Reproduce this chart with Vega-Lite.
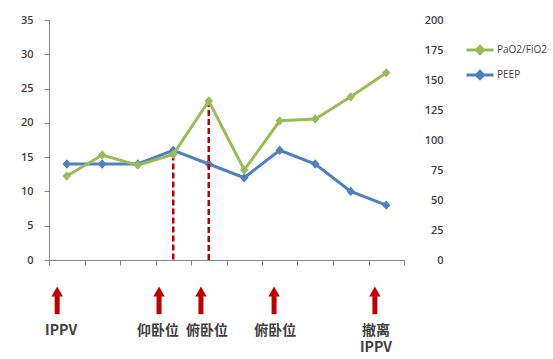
{
  "$schema": "https://vega.github.io/schema/vega-lite/v6.json",
  "autosize": "none",
  "width": 355,
  "height": 240,
  "padding": {"left": 49, "top": 20, "right": 149, "bottom": 99},
  "background": "white",
  "config": {
    "view": {"stroke": null},
    "axis": {"labelFont": "Open Sans", "labelFontSize": 11, "labelFontWeight": 600, "labelColor": "#3F3F3F", "grid": false, "domainColor": "#868686", "tickColor": "#868686", "title": null, "labelOverlap": false, "labelFlush": false, "labelBound": false},
    "legend": {"labelFont": "Open Sans", "labelFontSize": 10, "labelColor": "#3F3F3F"}
  },
  "datasets": {
    "series": [
      {"i": 1, "series": "PEEP", "value": 14},
      {"i": 2, "series": "PEEP", "value": 14},
      {"i": 3, "series": "PEEP", "value": 14},
      {"i": 4, "series": "PEEP", "value": 16},
      {"i": 5, "series": "PEEP", "value": 14},
      {"i": 6, "series": "PEEP", "value": 12},
      {"i": 7, "series": "PEEP", "value": 16},
      {"i": 8, "series": "PEEP", "value": 14},
      {"i": 9, "series": "PEEP", "value": 10},
      {"i": 10, "series": "PEEP", "value": 8},
      {"i": 1, "series": "PaO2/FiO2", "value": 70},
      {"i": 2, "series": "PaO2/FiO2", "value": 87.5},
      {"i": 3, "series": "PaO2/FiO2", "value": 79},
      {"i": 4, "series": "PaO2/FiO2", "value": 88},
      {"i": 5, "series": "PaO2/FiO2", "value": 132.5},
      {"i": 6, "series": "PaO2/FiO2", "value": 75},
      {"i": 7, "series": "PaO2/FiO2", "value": 116},
      {"i": 8, "series": "PaO2/FiO2", "value": 117.5},
      {"i": 9, "series": "PaO2/FiO2", "value": 136},
      {"i": 10, "series": "PaO2/FiO2", "value": 156}
    ],
    "events": [
      {"at": 0.73, "labelAt": 0.84, "label": "IPPV"},
      {"at": 3.6, "labelAt": 3.57, "label": "仰卧位"},
      {"at": 4.78, "labelAt": 4.95, "label": "俯卧位"},
      {"at": 6.84, "labelAt": 6.87, "label": "俯卧位"},
      {"at": 9.68, "labelAt": 9.71, "label": "撤离\nIPPV"}
    ]
  },
  "layer": [
    {
      "layer": [
        {
          "data": {"name": "series"},
          "transform": [{"filter": "datum.series == 'PEEP'"}],
          "mark": {"type": "line", "strokeWidth": 3},
          "encoding": {
            "x": {"field": "i", "type": "quantitative", "scale": {"domain": [0.5, 10.5], "nice": false, "zero": false}, "axis": {"values": [0.5,1.5,2.5,3.5,4.5,5.5,6.5,7.5,8.5,9.5,10.5], "labels": false, "tickSize": 5}},
            "y": {"field": "value", "type": "quantitative", "scale": {"domain": [0, 35], "nice": false}, "axis": {"values": [0,5,10,15,20,25,30,35], "tickSize": 5, "labelPadding": 11}},
            "color": {"field": "series", "type": "nominal", "scale": {"domain": ["PaO2/FiO2", "PEEP"], "range": ["#9BBB59", "#4F81BD"]},
              "legend": {"title": null, "orient": "none", "legendX": 416, "legendY": 15, "symbolType": "M-1,0L1,0M0,-0.27L0.27,0L0,0.27L-0.27,0Z", "symbolSize": 729, "symbolStrokeWidth": 3, "rowPadding": 0, "labelOffset": 2,
                "encode": {"symbols": {"update": {"fill": {"scale": "color", "field": "value"}, "stroke": {"scale": "color", "field": "value"}, "opacity": {"value": 1}}}}}}
          }
        },
        {
          "data": {"name": "series"},
          "transform": [{"filter": "datum.series == 'PEEP'"}],
          "mark": {"type": "point", "shape": "M0,-1.1L1,0L0,1.1L-1,0Z", "filled": true, "size": 72, "opacity": 1},
          "encoding": {
            "x": {"field": "i", "type": "quantitative", "axis": {"values": [0.5,1.5,2.5,3.5,4.5,5.5,6.5,7.5,8.5,9.5,10.5], "labels": false, "tickSize": 5}},
            "y": {"field": "value", "type": "quantitative", "axis": {"values": [0,5,10,15,20,25,30,35], "tickSize": 5, "labelPadding": 11}},
            "color": {"field": "series", "type": "nominal"}
          }
        },
        {
          "data": {"name": "events"},
          "mark": {"type": "rule", "color": "#C00000", "strokeWidth": 5},
          "encoding": {
            "x": {"field": "at", "type": "quantitative", "axis": {"values": [0.5,1.5,2.5,3.5,4.5,5.5,6.5,7.5,8.5,9.5,10.5], "labels": false, "tickSize": 5}},
            "y": {"datum": -5.2, "type": "quantitative", "axis": {"values": [0,5,10,15,20,25,30,35], "tickSize": 5, "labelPadding": 11}},
            "y2": {"datum": -7.9}
          }
        },
        {
          "data": {"name": "events"},
          "mark": {"type": "point", "shape": "triangle-up", "filled": true, "color": "#C00000", "size": 130, "opacity": 1},
          "encoding": {
            "x": {"field": "at", "type": "quantitative", "axis": {"values": [0.5,1.5,2.5,3.5,4.5,5.5,6.5,7.5,8.5,9.5,10.5], "labels": false, "tickSize": 5}},
            "y": {"datum": -4.6, "type": "quantitative", "axis": {"values": [0,5,10,15,20,25,30,35], "tickSize": 5, "labelPadding": 11}}
          }
        },
        {
          "data": {"name": "events"},
          "mark": {"type": "text", "font": "Noto Sans CJK SC", "fontSize": 14, "fontWeight": "bold", "color": "#3F3F3F", "baseline": "top", "align": "center", "lineBreak": "\n", "lineHeight": 17},
          "encoding": {
            "x": {"field": "labelAt", "type": "quantitative", "axis": {"values": [0.5,1.5,2.5,3.5,4.5,5.5,6.5,7.5,8.5,9.5,10.5], "labels": false, "tickSize": 5}},
            "y": {"datum": -9.3, "type": "quantitative", "axis": {"values": [0,5,10,15,20,25,30,35], "tickSize": 5, "labelPadding": 11}},
            "text": {"field": "label"}
          }
        }
      ]
    },
    {
      "layer": [
        {
          "data": {"name": "series"},
          "transform": [{"filter": "datum.series == 'PaO2/FiO2' && (datum.i == 4 || datum.i == 5)"}],
          "mark": {"type": "rule", "color": "#C00000", "strokeWidth": 2.5, "strokeDash": [6, 3]},
          "encoding": {
            "x": {"field": "i", "type": "quantitative", "axis": {"values": [0.5,1.5,2.5,3.5,4.5,5.5,6.5,7.5,8.5,9.5,10.5], "labels": false, "tickSize": 5}},
            "y": {"field": "value", "type": "quantitative", "scale": {"domain": [0, 200], "nice": false}, "axis": {"orient": "right", "values": [0,25,50,75,100,125,150,175,200], "ticks": false, "domain": false, "labelAlign": "right", "labelPadding": 39}},
            "y2": {"datum": 0}
          }
        },
        {
          "data": {"name": "series"},
          "transform": [{"filter": "datum.series == 'PaO2/FiO2'"}],
          "mark": {"type": "line", "strokeWidth": 3},
          "encoding": {
            "x": {"field": "i", "type": "quantitative", "axis": {"values": [0.5,1.5,2.5,3.5,4.5,5.5,6.5,7.5,8.5,9.5,10.5], "labels": false, "tickSize": 5}},
            "y": {"field": "value", "type": "quantitative", "axis": {"orient": "right", "values": [0,25,50,75,100,125,150,175,200], "ticks": false, "domain": false, "labelAlign": "right", "labelPadding": 39}},
            "color": {"field": "series", "type": "nominal"}
          }
        },
        {
          "data": {"name": "series"},
          "transform": [{"filter": "datum.series == 'PaO2/FiO2'"}],
          "mark": {"type": "point", "shape": "M0,-1.1L1,0L0,1.1L-1,0Z", "filled": true, "size": 72, "opacity": 1},
          "encoding": {
            "x": {"field": "i", "type": "quantitative", "axis": {"values": [0.5,1.5,2.5,3.5,4.5,5.5,6.5,7.5,8.5,9.5,10.5], "labels": false, "tickSize": 5}},
            "y": {"field": "value", "type": "quantitative", "axis": {"orient": "right", "values": [0,25,50,75,100,125,150,175,200], "ticks": false, "domain": false, "labelAlign": "right", "labelPadding": 39}},
            "color": {"field": "series", "type": "nominal"}
          }
        }
      ]
    }
  ],
  "resolve": {"scale": {"y": "independent"}}
}
